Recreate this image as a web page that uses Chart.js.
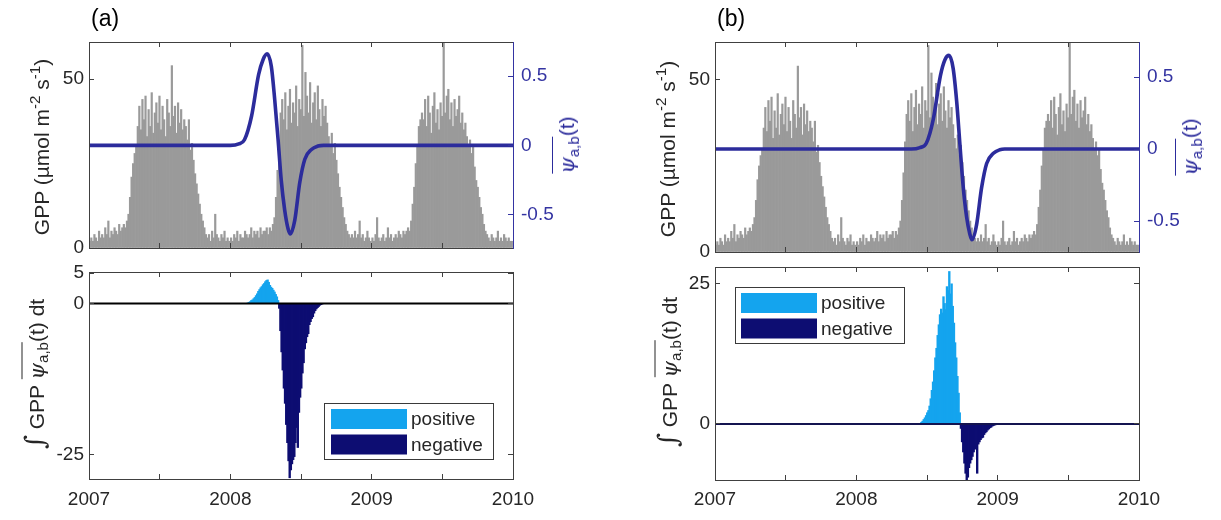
<!DOCTYPE html>
<html><head><meta charset="utf-8">
<script src="https://cdn.jsdelivr.net/npm/chart.js@4.4.1/dist/chart.umd.min.js"></script>
<style>
body{margin:0;background:#fff;width:1221px;height:520px;overflow:hidden;position:relative;font-family:"Liberation Sans",Arial,sans-serif;}
canvas{position:absolute;}
.lab{position:absolute;white-space:nowrap;transform:translate(-50%,-50%) rotate(-90deg);font-size:21px;color:#262626;line-height:1;}
.blue{color:#2c2c9c;}
.ov{display:inline-block;border-top:1.6px solid currentColor;padding-top:3px;line-height:1;}
.psi{font-family:"DejaVu Serif",serif;font-style:italic;}
.int{font-family:"DejaVu Serif",serif;font-size:27px;font-style:italic;}
sub{font-size:72%;vertical-align:-0.3em;line-height:0;}
sup{font-size:72%;vertical-align:0.55em;line-height:0;}
.panel{position:absolute;font-size:23px;color:#000;line-height:1;}
</style></head>
<body>
<canvas id="aTop" width="610" height="260" style="left:0;top:0"></canvas>
<canvas id="aBot" width="610" height="260" style="left:0;top:260px"></canvas>
<canvas id="bTop" width="611" height="260" style="left:610px;top:0"></canvas>
<canvas id="bBot" width="611" height="260" style="left:610px;top:260px"></canvas>

<div class="panel" style="left:91px;top:7px">(a)</div>
<div class="panel" style="left:717px;top:7px">(b)</div>

<div class="lab" style="left:41px;top:147px">GPP (µmol m<sup>-2</sup> s<sup>-1</sup>)</div>
<div class="lab" style="left:667px;top:149px">GPP (µmol m<sup>-2</sup> s<sup>-1</sup>)</div>
<div class="lab blue" style="left:565px;top:145px"><span class="ov"><span class="psi">ψ</span><sub>a,b</sub></span>(t)</div>
<div class="lab blue" style="left:1188px;top:147px"><span class="ov"><span class="psi">ψ</span><sub>a,b</sub></span>(t)</div>
<div class="lab" style="left:34px;top:374px"><span class="int">∫</span> GPP <span class="ov"><span class="psi">ψ</span><sub>a,b</sub></span>(t) dt</div>
<div class="lab" style="left:667px;top:372px"><span class="int">∫</span> GPP <span class="ov"><span class="psi">ψ</span><sub>a,b</sub></span>(t) dt</div>

<script>
// ---------------- data ----------------
const YEARS = [2007, 2008, 2009];
const GPP_STEP_DAYS = 4;
const gpp2007 = [2,3,2,4,3,2,5,3,4,3,6,4,8,3,5,4,6,5,4,7,5,6,7,
  6,8,
  10,15,21,25,28,30,36,
  42,35,44,38,45,33,41,36,46,34,40,43,37,45,35,42,38,33,44,40,36,54,39,42,34,43,37,41,35,38,
  36,32,38,29,31,26,22,19,16,13,10,8,6,4,
  3,4,2,5,3,10,4,3,2,4,3,5,2,3,2];
const gpp2008 = [3,2,4,3,5,2,4,3,3,5,4,3,4,6,3,5,4,5,3,6,4,5,5,6,4,6,5,7,
  9,15,23,32,40,
  44,38,46,35,42,47,37,43,40,48,36,44,41,60,39,52,45,40,49,37,43,46,38,48,41,36,44,39,42,37,
  33,30,34,28,31,26,22,18,15,12,9,7,5,4,3,
  4,3,5,3,4,8,3,4,2,3,5,3,2];
const gpp2009 = [3,2,4,9,3,2,3,4,2,3,6,3,4,2,3,4,3,5,4,3,5,4,5,
  6,5,8,
  13,18,25,30,36,38,40,
  38,44,36,45,40,34,42,46,37,41,35,43,39,61,40,45,47,38,43,36,44,39,41,45,37,40,35,
  37,33,30,32,28,30,24,20,18,15,12,10,7,5,
  4,3,2,4,3,2,3,5,2,3,2,4,3,2,3,2,2];

// wavelet psi_{a,b}(t)
const psiATime  = [2007, 2008.0, 2008.06, 2008.10, 2008.15, 2008.20, 2008.232, 2008.26, 2008.29, 2008.314, 2008.338, 2008.36, 2008.385, 2008.408, 2008.425, 2008.456, 2008.491, 2008.527, 2008.574, 2008.62, 2008.66, 2010];
const psiAValue = [0, 0, 0.01, 0.04, 0.21, 0.51, 0.62, 0.66, 0.57, 0.33, 0.04, -0.25, -0.47, -0.60, -0.64, -0.54, -0.27, -0.10, -0.03, -0.005, 0, 0];
const psiBTime  = [2007, 2008.39, 2008.45, 2008.495, 2008.545, 2008.595, 2008.627, 2008.656, 2008.685, 2008.71, 2008.733, 2008.755, 2008.78, 2008.803, 2008.818, 2008.85, 2008.886, 2008.922, 2008.97, 2009.015, 2009.05, 2010];
const psiBValue = [0, 0, 0.01, 0.04, 0.21, 0.51, 0.62, 0.65, 0.56, 0.33, 0.03, -0.25, -0.47, -0.59, -0.63, -0.53, -0.27, -0.10, -0.03, -0.005, 0, 0];

// integral GPP*psi (bars), 3-day steps
const FLUX_STEP_DAYS = 3;
const fluxAStart = 2008.12;
const fluxA = [0.1,0.2,0.3,0.5,0.6,0.8,1.0,1.3,1.6,2.0,2.3,2.6,2.8,3.1,3.3,3.6,3.8,3.9,3.5,3.0,2.7,2.5,2.2,1.9,1.5,1.1,0.5,
  -0.8,-4.5,-8,-11,-14,-16.5,-20,-23,-26,-28.8,-27.5,-26.5,-25.8,-25.3,-23,-20.5,-23.8,-18,-15.5,-14,-11.5,-9.8,-7.5,-6.5,-5.5,-5.0,-3.5,-3.0,-2.5,-2.2,-1.6,-1.2,-0.9,-0.7,-0.5,-0.3,-0.2,-0.1];
const fluxBStart = 2008.44;
const fluxB = [0.05,0.1,0.3,0.5,0.8,1.1,1.5,2.0,2.4,3.2,4.5,6.0,7.5,9.5,11.8,13.5,15.8,17.7,19.5,20.5,19.8,22.7,21.5,20.4,24.5,23.8,27.2,23.2,25.0,21,18,14.5,11.8,8.5,5.5,2.0,
  -0.8,-3.2,-5,-7,-8.8,-10,-9.5,-7.8,-7.0,-6.4,-5.8,-5.0,-4.5,-4.0,-8.8,-3.6,-3.2,-2.8,-2.5,-2.4,-1.9,-1.6,-1.4,-1.1,-0.9,-0.7,-0.6,-0.4,-0.3,-0.2,-0.15,-0.1,-0.05];

// ticks
const xTickValues = [2007, 2007.5, 2008, 2008.5, 2009, 2009.5, 2010];
const xTickLabels = [2007, 2008, 2009, 2010];
const gppTicks = [0, 50];
const psiTicks = [-0.5, 0, 0.5];
const fluxATicks = [-25, 0, 5];
const fluxBTicks = [0, 25];

// axis limits
const X_MIN = 2007, X_MAX = 2010;
const GPP_MAX = 61;
const psiALim = [-0.741, 0.746];
const psiBLim = [-0.715, 0.743];
const fluxALim = [-29, 5.2];
const fluxBLim = [-10, 28];

// ---------------- styles ----------------
const TXT = '#262626', AXC = '#404040', PSI = '#2c2c9c', PSI_AX = '#3434a2';
const GPP_COLOR = '#9a9a9a', POS = '#14a4ee', NEG = '#0d0d72';
const FONT = '"Liberation Sans", Arial, sans-serif';
Chart.defaults.font.family = FONT;
Chart.defaults.font.size = 19;
Chart.defaults.color = TXT;

const gppPoints = [];
[gpp2007, gpp2008, gpp2009].forEach((arr, k) => arr.forEach((v, j) =>
  gppPoints.push({x: YEARS[k] + (j * GPP_STEP_DAYS + GPP_STEP_DAYS / 2) / 365, y: v})));
const pts = (t, v) => t.map((x, i) => ({x, y: v[i]}));
const fluxPts = (start, arr) => arr.map((v, i) => ({x: start + (i * FLUX_STEP_DAYS + FLUX_STEP_DAYS / 2) / 365, y: v}));

function noPad(s) { s.paddingTop = 0; s.paddingBottom = 0; s.paddingLeft = 0; s.paddingRight = 0; }

function xScale(pos, h, labels, pad, col) {
  return {
    type: 'linear', position: pos, min: X_MIN, max: X_MAX, offset: false,
    afterFit: s => { s.height = h; noPad(s); },
    afterBuildTicks: s => { s.ticks = xTickValues.map(v => ({value: v})); },
    ticks: {display: labels, padding: pad || 0, autoSkip: false, maxRotation: 0, color: TXT,
      callback: v => xTickLabels.includes(v) ? String(v) : ''},
    grid: {display: true, offset: false, drawOnChartArea: false, tickLength: -5, tickColor: col || AXC, tickWidth: 1, z: 1},
    border: {display: true, color: col || AXC, width: 1, z: 1}
  };
}
function yScale(pos, lim, ticks, w, labels, pad, col, tcol) {
  return {
    type: 'linear', position: pos, min: lim[0], max: lim[1], beginAtZero: false,
    afterFit: s => { s.width = w; noPad(s); },
    afterBuildTicks: s => { s.ticks = ticks.map(v => ({value: v})); },
    ticks: {display: labels, padding: pad || 0, color: tcol || TXT, callback: v => String(v)},
    grid: {display: true, drawOnChartArea: false, tickLength: -5, tickColor: col || AXC, tickWidth: 1, z: 1},
    border: {display: true, color: col || AXC, width: 1, z: 1}
  };
}

const boxLegend = {
  id: 'boxLegend',
  afterDraw(chart, args, o) {
    if (!o || !o.show) return;
    const ctx = chart.ctx;
    ctx.save();
    ctx.fillStyle = '#fff';
    ctx.fillRect(o.x, o.y, o.w, o.h);
    ctx.strokeStyle = '#3a3a3a'; ctx.lineWidth = 1;
    ctx.strokeRect(o.x + 0.5, o.y + 0.5, o.w - 1, o.h - 1);
    chart.data.datasets.filter(d => d.inLegend).forEach((d, i) => {
      const sy = o.y + o.pad + i * o.rowH;
      ctx.fillStyle = d.backgroundColor;
      ctx.fillRect(o.x + o.swX, sy, o.swW, o.swH);
      ctx.fillStyle = TXT;
      ctx.font = '19px ' + FONT;
      ctx.textBaseline = 'middle'; ctx.textAlign = 'left';
      ctx.fillText(d.label, o.x + o.swX + o.swW + o.gap, sy + o.swH / 2 + 1);
    });
    ctx.restore();
  }
};

const base = {responsive: false, animation: false, devicePixelRatio: 1, events: []};

function topPanel(id, g, psiT, psiV, psiLim) {
  return new Chart(document.getElementById(id), {
    type: 'bar',
    data: {datasets: [
      {type: 'line', label: 'ψa,b(t)', data: pts(psiT, psiV), xAxisID: 'x', yAxisID: 'y2',
       borderColor: PSI, borderWidth: 3.6, pointRadius: 0, cubicInterpolationMode: 'monotone', fill: false, order: 0},
      {type: 'bar', label: 'GPP', data: gppPoints, xAxisID: 'x', yAxisID: 'y',
       backgroundColor: GPP_COLOR, barPercentage: 1, categoryPercentage: 1, order: 1}
    ]},
    options: Object.assign({}, base, {
      layout: {padding: {top: g.top, left: 0, right: 0, bottom: 0}},
      plugins: {legend: {display: false}, tooltip: {enabled: false}},
      scales: {
        x: xScale('bottom', g.bottomH, false),
        xTop: xScale('top', 0, false),
        y: yScale('left', [0, GPP_MAX], gppTicks, g.leftW, true, 10),
        y2: yScale('right', psiLim, psiTicks, g.rightW, true, 13, PSI_AX, PSI_AX)
      }
    })
  });
}

function botPanel(id, g, start, arr, lim, ticks, zeroCol, leg) {
  const fp = fluxPts(start, arr);
  return new Chart(document.getElementById(id), {
    type: 'bar',
    data: {datasets: [
      {type: 'line', label: 'baseline', data: [{x: X_MIN, y: 0}, {x: X_MAX, y: 0}], xAxisID: 'x', yAxisID: 'y',
       borderColor: zeroCol, borderWidth: 2, pointRadius: 0, order: 0},
      {type: 'bar', label: 'positive', inLegend: true, data: fp.filter(p => p.y > 0), xAxisID: 'x', yAxisID: 'y',
       backgroundColor: POS, grouped: false, barThickness: 1.7, order: 1},
      {type: 'bar', label: 'negative', inLegend: true, data: fp.filter(p => p.y < 0), xAxisID: 'x', yAxisID: 'y',
       backgroundColor: NEG, grouped: false, barThickness: 1.7, order: 1}
    ]},
    options: Object.assign({}, base, {
      layout: {padding: {top: g.top, left: 0, right: 0, bottom: 0}},
      plugins: {legend: {display: false}, tooltip: {enabled: false}, boxLegend: leg},
      scales: {
        x: xScale('bottom', g.bottomH, true, g.xPad),
        xTop: xScale('top', 0, false),
        y: yScale('left', lim, ticks, g.leftW, true, 10),
        yR: yScale('right', lim, ticks, g.rightW, false)
      }
    }),
    plugins: [boxLegend]
  });
}

topPanel('aTop', {top: 42, bottomH: 12, leftW: 89, rightW: 97}, psiATime, psiAValue, psiALim);
topPanel('bTop', {top: 42, bottomH: 8, leftW: 105, rightW: 82}, psiBTime, psiBValue, psiBLim);
botPanel('aBot', {top: 12, bottomH: 41, leftW: 89, rightW: 97, xPad: 14.5}, fluxAStart, fluxA, fluxALim, fluxATicks, '#000000',
  {show: true, x: 324, y: 143, w: 170, h: 57, swX: 7, swW: 76, swH: 20, pad: 6, rowH: 25.5, gap: 4});
botPanel('bBot', {top: 7, bottomH: 40, leftW: 105, rightW: 82, xPad: 13.5}, fluxBStart, fluxB, fluxBLim, fluxBTicks, '#141450',
  {show: true, x: 125, y: 27, w: 170, h: 57, swX: 6, swW: 76, swH: 20, pad: 6, rowH: 25.5, gap: 4});
</script>
</body></html>
